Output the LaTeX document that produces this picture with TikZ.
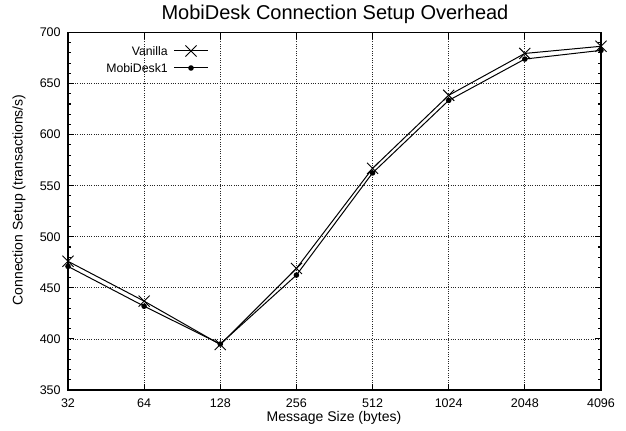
\documentclass[tikz,border=0pt]{standalone}
\usepackage{fontspec}
\setmainfont{Liberation Sans}
\usetikzlibrary{shapes.misc}
\begin{document}
\begin{tikzpicture}[x=0.75pt,y=-0.75pt,
  frame/.style={line width=1.1pt,black},
  gridline/.style={line width=0.6pt,black!85,dash pattern=on 0.75pt off 1pt},
  tickmark/.style={line width=0.8pt,black},
  series/.style={line width=0.75pt,black},
  ticklabel/.style={font=\fontsize{9.4pt}{11pt}\selectfont,inner sep=0pt},
  axislabel/.style={font=\fontsize{10.5pt}{12pt}\selectfont,inner sep=0pt},
  legendtext/.style={font=\fontsize{9.2pt}{11pt}\selectfont,inner sep=0pt,anchor=east},
  crossmark/.style={cross out,draw,line width=0.7pt,inner sep=0pt,minimum size=7.6pt},
  dotmark/.style={circle,fill=black,inner sep=0pt,minimum size=4.2pt}
]
\useasboundingbox (0,0) rectangle (626,431);
\fill[white] (0,0) rectangle (626,431);

% title
\node[font=\fontsize{15pt}{18pt}\selectfont,inner sep=0pt,anchor=base] (title) at (335,20) {MobiDesk Connection Setup Overhead};

% axis labels
\node[axislabel,anchor=base] (xlab) at (334,422) {Message Size (bytes)};
\node[axislabel,rotate=90] (ylab) at (19,200) {Connection Setup (transactions/s)};

% plot area: x = category index, y = value - 350
\begin{scope}[shift={(68,390)},x=57.105pt,y=0.76607pt]
  % grid
  \foreach \i in {1,...,6} \draw[gridline] (\i,0) -- (\i,350);
  \foreach \v in {50,100,...,300} \draw[gridline] (0,\v) -- (7,\v);
  % minor ticks on the value axis
  \foreach \v in {10,20,...,340} {
    \draw[tickmark] (0,\v) -- ++(2.3pt,0);
    \draw[tickmark] (7,\v) -- ++(-2.3pt,0);
  }
  % major ticks
  \foreach \v in {50,100,...,300} {
    \draw[tickmark] (0,\v) -- ++(4.6pt,0);
    \draw[tickmark] (7,\v) -- ++(-4.6pt,0);
  }
  \foreach \i in {1,...,6} {
    \draw[tickmark] (\i,0) -- ++(0,4.6pt);
    \draw[tickmark] (\i,350) -- ++(0,-4.6pt);
  }
  % frame
  \draw[frame] (0,0) rectangle (7,350);

  % value labels
  \foreach \v in {350,400,...,700}
    \node[ticklabel,anchor=east] (yl\v) at ([xshift=-5.3pt]0,\v-350) {\v};
  % size labels
  \foreach \s [count=\k from 0] in {32,64,128,256,512,1024,2048,4096}
    \node[ticklabel,anchor=north] (xl\s) at ([yshift=-6.5pt]\k,0) {\s};

  % data points
  \foreach \val [count=\k from 0] in {476,437,394.5,469,567,638.5,679.5,686.5}
    \coordinate (v\k) at (\k,\val-350);
  \foreach \val [count=\k from 0] in {471,432,395,462.5,562.5,633.5,674,682.5}
    \coordinate (m\k) at (\k,\val-350);

  \draw[series] (v0) -- (v1) -- (v2) -- (v3) -- (v4) -- (v5) -- (v6) -- (v7);
  \draw[series] (m0) -- (m1) -- (m2) -- (m3) -- (m4) -- (m5) -- (m6) -- (m7);
  \foreach \k in {0,...,7} {
    \node[crossmark] (vm\k) at (v\k) {};
    \node[dotmark] (mm\k) at (m\k) {};
  }
\end{scope}

% legend
\node[legendtext] (lgv) at (168,51) {Vanilla};
\node[legendtext] (lgm) at (168,68) {MobiDesk1};
\coordinate (lgva) at (174,51); \coordinate (lgvb) at (208,51);
\coordinate (lgma) at (174,68); \coordinate (lgmb) at (208,68);
\draw[series] (lgva) -- (lgvb);
\draw[series] (lgma) -- (lgmb);
\node[crossmark] (lgvx) at (191,51) {};
\node[dotmark] (lgmx) at (191,68) {};
\end{tikzpicture}
\end{document}
